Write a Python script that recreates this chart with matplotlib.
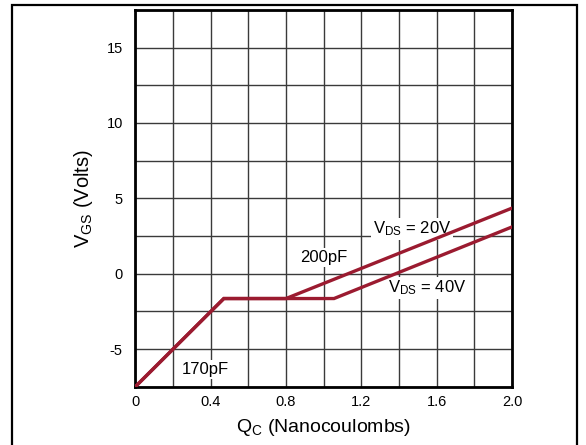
import numpy as np
import matplotlib
matplotlib.use("Agg")
import matplotlib.pyplot as plt
from matplotlib.patches import Rectangle

plt.rcParams['font.family'] = ['Liberation Sans', 'DejaVu Sans']
plt.rcParams['mathtext.fontset'] = 'custom'
plt.rcParams['mathtext.rm'] = 'Liberation Sans'
plt.rcParams['mathtext.it'] = 'Liberation Sans'
plt.rcParams['axes.unicode_minus'] = False

# gate charge curves (Qc in nC, Vgs in V)
qc_20v = [0.0, 0.47, 0.80, 2.0]
vgs_20v = [-7.5, -1.65, -1.65, 4.35]
qc_40v = [0.0, 0.47, 1.055, 2.0]
vgs_40v = [-7.5, -1.65, -1.65, 3.1]

xticks = [0, 0.4, 0.8, 1.2, 1.6, 2.0]
xtick_labels = ['0', '0.4', '0.8', '1.2', '1.6', '2.0']
yticks = [-5, 0, 5, 10, 15]

red = '#9b1b30'

fig = plt.figure(figsize=(5.86, 4.45), dpi=100)
ax = fig.add_axes([0.2309, 0.131, 0.6428, 0.8467])

# outer frame
fig.patches.append(Rectangle((12 / 586, -0.1), 565 / 586, 1.1 - 5.5 / 445,
                             transform=fig.transFigure, fill=False,
                             edgecolor='black', linewidth=1.6))

ax.set_xlim(0, 2.0)
ax.set_ylim(-7.5, 17.5)
ax.set_xticks(np.arange(0, 2.01, 0.2), minor=True)
ax.set_yticks(np.arange(-7.5, 17.6, 2.5), minor=True)
ax.set_xticks(xticks)
ax.set_xticklabels(xtick_labels)
ax.set_yticks(yticks)
ax.grid(True, which='both', color='#3a3a3a', linewidth=1.0, zorder=0)
ax.tick_params(which='both', length=0, labelsize=10.5)
ax.tick_params(axis='y', pad=9)
ax.tick_params(axis='x', pad=6)
for s in ax.spines.values():
    s.set_linewidth(2.0)
    s.set_color('black')

ax.plot(qc_20v, vgs_20v, color=red, linewidth=2.4, zorder=3, solid_joinstyle='miter')
ax.plot(qc_40v, vgs_40v, color=red, linewidth=2.4, zorder=3, solid_joinstyle='miter')

box = dict(facecolor='white', edgecolor='none', pad=1.5)
ax.text(1.47, 2.97, r'V$_{\mathrm{DS}}$ = 20V', fontsize=12, ha='center', va='center', bbox=box, zorder=2)
ax.text(1.55, -0.95, r'V$_{\mathrm{DS}}$ = 40V', fontsize=12, ha='center', va='center', bbox=box, zorder=2)
ax.text(1.0, 1.1, '200pF', fontsize=12, ha='center', va='center', bbox=box, zorder=2)
ax.text(0.37, -6.35, '170pF', fontsize=12, ha='center', va='center', bbox=box, zorder=2)

ax.set_xlabel(r'Q$_{\mathrm{C}}$ (Nanocoulombs)', fontsize=14, labelpad=6)
ax.set_ylabel(r'V$_{\mathrm{GS}}$ (Volts)', fontsize=14.5, labelpad=8)

fig.savefig('out.png', dpi=100)
